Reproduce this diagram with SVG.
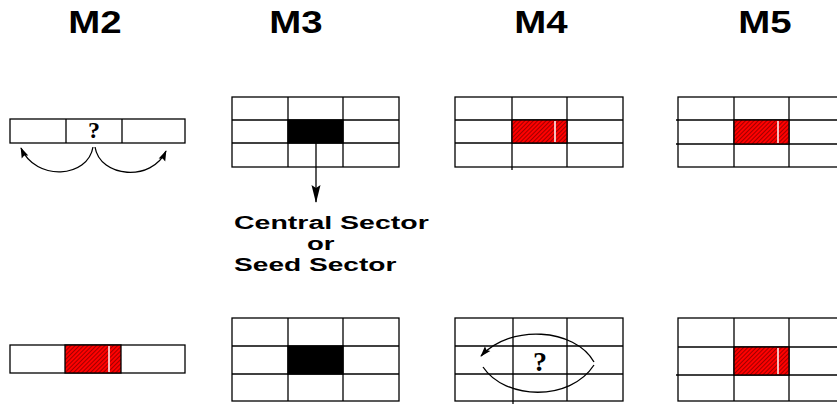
<svg xmlns="http://www.w3.org/2000/svg" width="837" height="404" viewBox="0 0 837 404">
  <defs>
    <pattern id="hatch" patternUnits="userSpaceOnUse" width="3" height="3" patternTransform="rotate(45)">
      <rect width="3" height="3" fill="#ff0000"/>
      <line x1="0" y1="0" x2="0" y2="3" stroke="#400000" stroke-width="1"/>
    </pattern>
    <marker id="head" viewBox="0 0 12 10" refX="11" refY="5" markerWidth="11" markerHeight="9" markerUnits="userSpaceOnUse" orient="auto">
      <path d="M0,1 L12,5 L0,9 L2,5 Z" fill="#000"/>
    </marker>
    <marker id="headLong" viewBox="0 0 18 10" refX="17" refY="5" markerWidth="18" markerHeight="10" markerUnits="userSpaceOnUse" orient="auto">
      <path d="M0,0.5 L18,5 L0,9.5 L3,5 Z" fill="#000"/>
    </marker>
  </defs>
  <style>
    .title { font-family: "Liberation Sans", Arial, sans-serif; font-weight: bold; font-size: 32px; fill: #000; text-anchor: middle; }
    .label { font-family: "Liberation Sans", Arial, sans-serif; font-weight: bold; font-size: 19px; fill: #000; }
    .q { font-family: "Liberation Serif", "Times New Roman", serif; font-weight: bold; fill: #000; text-anchor: middle; }
    .grid { fill: none; stroke: #000; stroke-width: 1.3; }
    .cell { fill: #fff; stroke: #000; stroke-width: 1.3; }
    .seed { fill: #000; stroke: #000; stroke-width: 1.3; }
    .hot { fill: url(#hatch); stroke: #000; stroke-width: 1.3; }
    .gap { stroke: #fff; stroke-width: 1.5; }
    .link { fill: none; stroke: #000; stroke-width: 1.3; }
  </style>
  <rect width="837" height="404" fill="#fff"/>

  <!-- column headings (wide bold face, stretched horizontally) -->
  <g id="headings">
    <text class="title" transform="translate(95,33) scale(1.2,1)">M2</text>
    <text class="title" transform="translate(296,33) scale(1.2,1)">M3</text>
    <text class="title" transform="translate(541,33) scale(1.2,1)">M4</text>
    <text class="title" transform="translate(765,33) scale(1.2,1)">M5</text>
  </g>

  <!-- M2, top: 1x3 strip with undecided middle -->
  <g id="m2-top">
    <rect class="cell" x="10" y="119" width="175" height="24"/>
    <line class="grid" x1="66" y1="119" x2="66" y2="143"/>
    <line class="grid" x1="122" y1="119" x2="122" y2="143"/>
    <text class="q" x="94" y="138" font-size="24">?</text>
  </g>

  <!-- M2, bottom: 1x3 strip with hatched middle -->
  <g id="m2-bottom">
    <rect class="cell" x="10" y="345" width="175" height="28"/>
    <rect class="hot" x="65" y="345" width="56" height="28"/>
    <line class="gap" x1="109" y1="346" x2="109" y2="372"/>
  </g>

  <!-- M3, top: 3x3 grid with seed cell -->
  <g id="m3-top">
    <rect class="cell" x="232" y="97" width="167" height="70"/>
    <line class="grid" x1="288" y1="97" x2="288" y2="167"/>
    <line class="grid" x1="343" y1="97" x2="343" y2="167"/>
    <line class="grid" x1="232" y1="120" x2="399" y2="120"/>
    <line class="grid" x1="232" y1="143" x2="399" y2="143"/>
    <rect class="seed" x="288" y="120" width="55" height="23"/>
  </g>

  <!-- seed cell caption -->
  <g id="m3-caption">
    <text class="label" transform="translate(234,229) scale(1.5,1)">Central Sector</text>
    <text class="label" transform="translate(307,250) scale(1.45,1)">or</text>
    <text class="label" transform="translate(234,271) scale(1.48,1)">Seed Sector</text>
  </g>

  <!-- M3, bottom -->
  <g id="m3-bottom">
    <rect class="cell" x="232" y="318" width="167" height="83"/>
    <line class="grid" x1="288" y1="318" x2="288" y2="401"/>
    <line class="grid" x1="343" y1="318" x2="343" y2="401"/>
    <line class="grid" x1="232" y1="346" x2="399" y2="346"/>
    <line class="grid" x1="232" y1="374" x2="399" y2="374"/>
    <rect class="seed" x="288" y="346" width="55" height="28"/>
  </g>

  <!-- M4, top -->
  <g id="m4-top">
    <rect class="cell" x="455" y="97" width="168" height="70"/>
    <line class="grid" x1="512" y1="97" x2="512" y2="170"/>
    <line class="grid" x1="567" y1="97" x2="567" y2="167"/>
    <line class="grid" x1="455" y1="120" x2="623" y2="120"/>
    <line class="grid" x1="455" y1="143" x2="623" y2="143"/>
    <rect class="hot" x="512" y="120" width="55" height="23"/>
    <line class="gap" x1="555" y1="121" x2="555" y2="142"/>
  </g>

  <!-- M4, bottom: undecided cell with rotation -->
  <g id="m4-bottom">
    <rect class="cell" x="455" y="318" width="168" height="83"/>
    <line class="grid" x1="513" y1="318" x2="513" y2="404"/>
    <line class="grid" x1="567" y1="318" x2="567" y2="401"/>
    <line class="grid" x1="455" y1="346" x2="623" y2="346"/>
    <line class="grid" x1="455" y1="374" x2="623" y2="374"/>
    <text class="q" x="540" y="371" font-size="28">?</text>
  </g>

  <!-- M5, top -->
  <g id="m5-top">
    <rect class="cell" x="678" y="97" width="170" height="70"/>
    <line class="grid" x1="734" y1="97" x2="734" y2="167"/>
    <line class="grid" x1="789" y1="97" x2="789" y2="167"/>
    <line class="grid" x1="676" y1="120" x2="848" y2="120"/>
    <line class="grid" x1="676" y1="144" x2="848" y2="144"/>
    <rect class="hot" x="734" y="120" width="55" height="24"/>
    <line class="gap" x1="778" y1="121" x2="778" y2="143"/>
  </g>

  <!-- M5, bottom -->
  <g id="m5-bottom">
    <rect class="cell" x="678" y="318" width="170" height="83"/>
    <line class="grid" x1="734" y1="318" x2="734" y2="401"/>
    <line class="grid" x1="789" y1="318" x2="789" y2="401"/>
    <line class="grid" x1="678" y1="347" x2="848" y2="347"/>
    <line class="grid" x1="676" y1="375" x2="848" y2="375"/>
    <rect class="hot" x="734" y="347" width="55" height="28"/>
    <line class="gap" x1="778" y1="348" x2="778" y2="374"/>
  </g>

  <!-- connectors -->
  <g id="connectors">
    <path class="link" d="M93,147 C88,178 36,182 21,148" marker-end="url(#head)"/>
    <path class="link" d="M95,147 C100,178 152,182 166,151" marker-end="url(#head)"/>
    <line class="link" x1="316" y1="143" x2="316" y2="202" marker-end="url(#headLong)"/>
    <path class="link" d="M594,362 C575,328 510,324 481,356" marker-end="url(#head)"/>
    <path class="link" d="M483,367 C505,400 570,402 594,365"/>
  </g>
</svg>
